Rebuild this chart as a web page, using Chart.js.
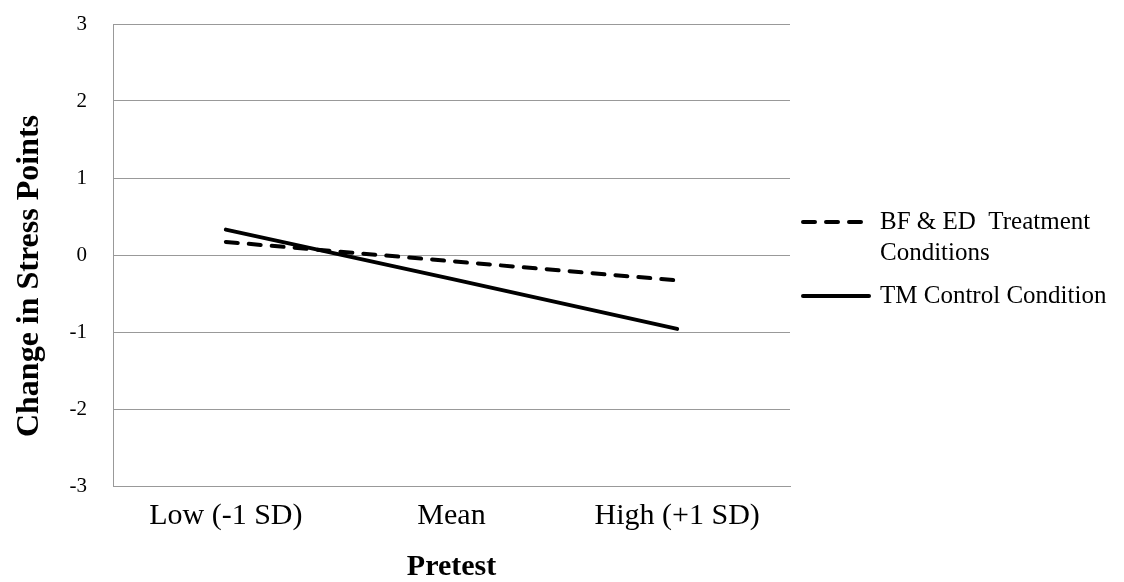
<!DOCTYPE html>
<html>
<head>
<meta charset="utf-8">
<script src="https://cdn.jsdelivr.net/npm/chart.js@4/dist/chart.umd.min.js"></script>
<style>
  html, body { margin: 0; padding: 0; background: #fff; }
  #wrap { width: 1124px; height: 582px; position: relative; }
</style>
</head>
<body>
<div id="wrap"><canvas id="chart"></canvas></div>
<script>
// categories and series
const categories = ['Low (-1 SD)', 'Mean', 'High (+1 SD)'];
const treatmentValues = [0.17, -0.08, -0.33];
const controlValues = [0.33, -0.31, -0.96];
const treatmentLabel = ['BF & ED  Treatment', 'Conditions'];
const controlLabel = ['TM Control Condition'];
const yTicks = [-3, -2, -1, 0, 1, 2, 3];
const xTitle = 'Pretest';
const yTitle = 'Change in Stress Points';

const serif = '"Liberation Serif", "Times New Roman", serif';

// draws the y title and the two-line legend the way the Excel figure has them
const extras = {
    id: 'extras',
    afterDraw(chart) {
        const ctx = chart.ctx;
        const area = chart.chartArea;
        ctx.save();

        // y axis title
        ctx.translate(30, 276);
        ctx.rotate(-Math.PI / 2);
        ctx.font = 'bold 32px ' + serif;
        ctx.fillStyle = '#000';
        ctx.textAlign = 'center';
        ctx.textBaseline = 'middle';
        ctx.fillText(yTitle, 0, 0);
        ctx.restore();

        // legend
        ctx.save();
        const x0 = area.right + 13, x1 = area.right + 79, tx = area.right + 90;
        ctx.font = '25px ' + serif;
        ctx.fillStyle = '#000';
        ctx.textAlign = 'left';
        ctx.textBaseline = 'middle';
        const items = [
            { ds: chart.data.datasets[0], y: 222 },
            { ds: chart.data.datasets[1], y: 296 }
        ];
        items.forEach(it => {
            ctx.beginPath();
            ctx.strokeStyle = it.ds.borderColor;
            ctx.lineWidth = it.ds.borderWidth;
            ctx.lineCap = it.ds.borderCapStyle || 'butt';
            ctx.setLineDash(it.ds.borderDash || []);
            ctx.moveTo(x0, it.y);
            ctx.lineTo(x1, it.y);
            ctx.stroke();
            ctx.setLineDash([]);
            it.ds.legendLines.forEach((line, i) => {
                ctx.fillText(line, tx, it.y + i * 31);
            });
        });
        ctx.restore();
    }
};

new Chart(document.getElementById('chart'), {
    type: 'line',
    data: {
        labels: categories,
        datasets: [
            {
                label: treatmentLabel.join(' '),
                legendLines: treatmentLabel,
                data: treatmentValues,
                borderColor: '#000',
                borderWidth: 4,
                borderDash: [12, 11],
                borderCapStyle: 'round',
                pointRadius: 0,
                tension: 0,
                fill: false
            },
            {
                label: controlLabel.join(' '),
                legendLines: controlLabel,
                data: controlValues,
                borderColor: '#000',
                borderWidth: 4,
                borderCapStyle: 'round',
                pointRadius: 0,
                tension: 0,
                fill: false
            }
        ]
    },
    options: {
        responsive: true,
        maintainAspectRatio: false,
        animation: false,
        layout: {
            padding: { left: 0, right: 334, top: 24, bottom: 0 }
        },
        plugins: {
            legend: { display: false },
            tooltip: { enabled: false }
        },
        scales: {
            x: {
                offset: true,
                grid: { display: false, drawTicks: false },
                border: { display: true, color: '#999', width: 1 },
                ticks: {
                    padding: 12,
                    color: '#000',
                    font: { family: serif, size: 30 }
                },
                title: {
                    display: true,
                    text: xTitle,
                    color: '#000',
                    font: { family: serif, size: 30, weight: 'bold', lineHeight: 1 },
                    padding: { top: 0, bottom: 0 }
                },
                afterFit: scale => { scale.height = 96; }
            },
            y: {
                min: -3,
                max: 3,
                afterBuildTicks: scale => {
                    scale.ticks = yTicks.map(v => ({ value: v }));
                },
                grid: { color: '#999', lineWidth: 1, drawTicks: false },
                border: { display: true, color: '#999', width: 1 },
                ticks: {
                    padding: 26,
                    color: '#000',
                    font: { family: serif, size: 21 }
                },
                afterFit: scale => {
                    scale.width = 113;
                    // tick padding would otherwise push the plot down
                    scale.paddingTop = 0;
                    scale.paddingBottom = 0;
                }
            }
        }
    },
    plugins: [extras]
});
</script>
</body>
</html>
